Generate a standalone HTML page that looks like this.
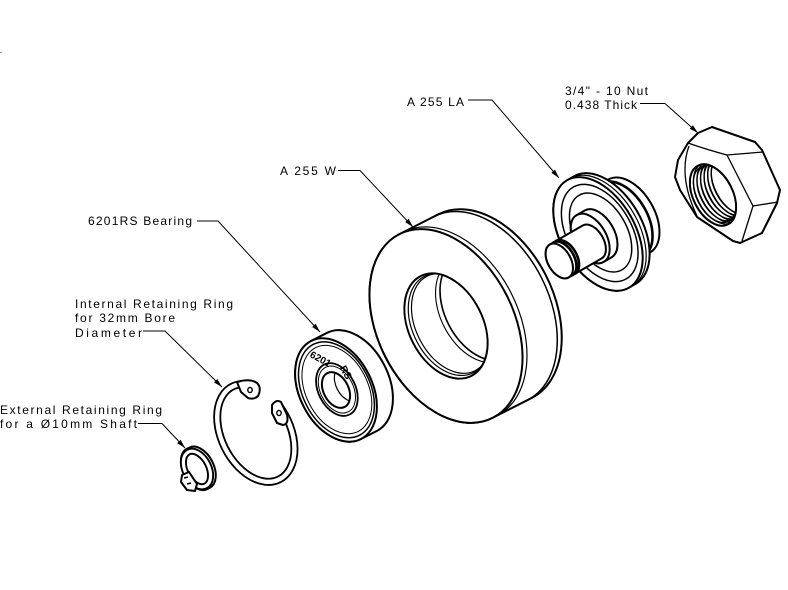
<!DOCTYPE html>
<html><head><meta charset="utf-8"><style>
html,body{margin:0;padding:0;background:#fff;width:788px;height:590px;overflow:hidden}
svg{display:block}
text{font-family:"Liberation Sans",sans-serif;font-size:12px;fill:#000}
.s{fill:#fff;stroke:#000;stroke-width:2;stroke-linejoin:round}
.l{fill:none;stroke:#000;stroke-width:1.3}
.ld{fill:none;stroke:#000;stroke-width:1}
</style></head><body>
<svg width="788" height="590" viewBox="0 0 788 590" xmlns="http://www.w3.org/2000/svg">
<defs>
<marker id="ar" markerUnits="userSpaceOnUse" markerWidth="10" markerHeight="8" refX="9" refY="4" orient="auto"><path d="M0,1.6 L9,4 L0,6.4 Z" fill="#000"/></marker>
<clipPath id="wh"><ellipse cx="0" cy="0" rx="37" ry="56"/></clipPath>
<clipPath id="nh"><ellipse cx="0" cy="0" rx="19.8" ry="33"/></clipPath>
<clipPath id="bh"><ellipse cx="0" cy="0" rx="12.5" ry="19"/></clipPath>
</defs>
<rect width="788" height="590" fill="#fff"/>
<rect x="0" y="52" width="2" height="1" fill="#999"/>

<!-- Labels -->
<text x="565" y="95" textLength="83">3/4&quot; - 10 Nut</text>
<text x="565" y="109" textLength="72">0.438 Thick</text>
<polyline class="ld" points="640,103.5 665,103.5 698,133" marker-end="url(#ar)"/>

<text x="407" y="106" textLength="57">A 255 LA</text>
<polyline class="ld" points="468,100 492,100 559,178" marker-end="url(#ar)"/>

<text x="280" y="175" textLength="56">A 255 W</text>
<polyline class="ld" points="338,170.5 360,170.5 413,227" marker-end="url(#ar)"/>

<text x="88" y="225" textLength="104">6201RS Bearing</text>
<polyline class="ld" points="197,221 218,221 320,332" marker-end="url(#ar)"/>

<text x="75" y="308" textLength="158">Internal Retaining Ring</text>
<text x="75" y="322" textLength="100">for 32mm Bore</text>
<text x="75" y="337" textLength="67">Diameter</text>
<polyline class="ld" points="143,331 165,331 222,387" marker-end="url(#ar)"/>

<text x="0" y="414" textLength="162">External Retaining Ring</text>
<text x="0" y="428" textLength="137">for a  Ø10mm Shaft</text>
<polyline class="ld" points="138,423.5 162,423.5 185,448" marker-end="url(#ar)"/>

<!-- Nut -->
<path class="s" d="M698,133 L712,127 L755,142 L762,150 L780,190 L777,203 L762,233 L740,243 L733,241 L697,217 L680,190 L675,177 L678,160 L688,143 Z"/>
<path class="l" d="M688,143 Q708,150 727,155 L763,152 M727,155 L753,206 L778,202 M753,206 L742,241 M689,146 Q678,176 697,216"/>
<g transform="translate(713,195) rotate(-27)">
<ellipse cx="0" cy="0" rx="19.8" ry="33" fill="#fff" stroke="#000" stroke-width="2"/>
<g clip-path="url(#nh)" fill="none" stroke="#000" stroke-width="1.3">
<ellipse cx="2" cy="0" rx="18.3" ry="30.5"/>
<ellipse cx="4" cy="0" rx="19.8" ry="33"/>
<ellipse cx="6" cy="0" rx="18.3" ry="30.5"/>
<ellipse cx="8" cy="0" rx="19.8" ry="33"/>
<ellipse cx="10" cy="0" rx="18.3" ry="30.5"/>
<ellipse cx="12" cy="0" rx="19.8" ry="33"/>
<ellipse cx="14" cy="0" rx="18.3" ry="30.5"/>
<ellipse cx="16" cy="0" rx="19.8" ry="33"/>
<ellipse cx="18" cy="0" rx="18.3" ry="30.5"/>
<ellipse cx="20" cy="0" rx="19.8" ry="33"/>
<ellipse cx="22" cy="0" rx="18.3" ry="30.5"/>
<ellipse cx="24" cy="0" rx="19.8" ry="33"/>
</g>
</g>

<!-- A 255 LA -->
<g transform="translate(598,234) rotate(-30)">
<path class="s" stroke-width="3" d="M8,-42 L36,-42 A25.2,42 0 0 1 36,42 L8,42 A25.2,42 0 0 1 8,-42 Z"/>
<path fill="none" stroke="#000" stroke-width="2.6" d="M28,-42 A25.2,42 0 0 1 28,42"/>
<path class="s" d="M0,-62 L8,-62 A37.2,62 0 0 1 8,62 L0,62 A37.2,62 0 0 1 0,-62 Z"/>
<path fill="none" stroke="#000" stroke-width="1.2" d="M4,-62 A37.2,62 0 0 1 4,62"/>
<ellipse class="s" cx="0" cy="0" rx="37.2" ry="62"/>
<ellipse cx="2" cy="0" rx="32" ry="53" fill="none" stroke="#000" stroke-width="1.5"/>
<ellipse cx="3" cy="0" rx="26" ry="43" fill="none" stroke="#000" stroke-width="1.5"/>
<path class="s" d="M-9,-27 L0,-27 A16.2,27 0 0 1 0,27 L-9,27 A16.2,27 0 0 1 -9,-27 Z"/>
<ellipse class="s" cx="-9" cy="0" rx="16.2" ry="27"/>
<g transform="translate(0,4)">
<path class="s" d="M-47,-19 L-9,-19 A11.4,19 0 0 1 -9,19 L-47,19 A11.4,19 0 0 1 -47,-19 Z"/>
<path fill="none" stroke="#000" stroke-width="2.6" d="M-43,-19 A11.4,19 0 0 1 -43,19 M-40,-19 A11.4,19 0 0 1 -40,19"/>
<ellipse class="s" cx="-47" cy="0" rx="11.4" ry="19"/>
</g>
</g>

<!-- A 255 W wheel -->
<g transform="translate(446,326) rotate(-27)">
<path class="s" d="M0,-103 L44,-103 A68,103 0 0 1 44,103 L0,103 A68,103 0 0 1 0,-103 Z"/>
<path fill="none" stroke="#000" stroke-width="1.5" d="M39,-103 A68,103 0 0 1 39,103"/>
<path fill="none" stroke="#000" stroke-width="1.2" d="M5,-103 A68,103 0 0 1 5,103"/>
<ellipse class="s" cx="0" cy="0" rx="68" ry="103"/>
<ellipse class="s" cx="0" cy="0" rx="37" ry="56"/>
<g clip-path="url(#wh)" fill="none" stroke="#000">
<ellipse cx="40" cy="0" rx="37" ry="56" stroke-width="1.6"/>
<ellipse cx="35" cy="0" rx="37" ry="56" stroke-width="1.1"/>
<ellipse cx="3" cy="0" rx="36" ry="54" stroke-width="1.2"/>
<ellipse cx="5.5" cy="0" rx="35" ry="53" stroke-width="1.2"/>
</g>
</g>

<!-- Bearing -->
<g transform="translate(336,390) rotate(-27)">
<path class="s" d="M0,-55 L18,-55 A36.3,55 0 0 1 18,55 L0,55 A36.3,55 0 0 1 0,-55 Z"/>
<ellipse class="s" cx="0" cy="0" rx="36.3" ry="55"/>
<ellipse cx="0.5" cy="0" rx="33.7" ry="51" fill="none" stroke="#000" stroke-width="1.5"/>
<ellipse cx="1" cy="0" rx="31" ry="47" fill="none" stroke="#000" stroke-width="1"/>
<ellipse cx="1" cy="0" rx="18.5" ry="28" fill="none" stroke="#000" stroke-width="1.8"/>
<ellipse cx="1" cy="0" rx="16.5" ry="25" fill="none" stroke="#000" stroke-width="1"/>
<ellipse class="s" cx="0" cy="0" rx="12.5" ry="19"/>
<g clip-path="url(#bh)"><ellipse cx="14" cy="0" rx="12.5" ry="19" fill="none" stroke="#000" stroke-width="1.2"/></g>
</g>
<text transform="translate(319,362) rotate(28)" text-anchor="middle" style="font-size:10px;font-weight:bold">6201</text>
<text transform="translate(343,374) rotate(60)" text-anchor="middle" style="font-size:10px;font-weight:bold">RS</text>

<!-- Internal retaining ring -->
<g transform="translate(256,433) rotate(-27)">
<path d="M33,-13.5 A34.3,52 0 1 1 15.6,-46.3" fill="none" stroke="#000" stroke-width="8"/>
<path d="M33,-13.5 A34.3,52 0 1 1 15.6,-46.3" fill="none" stroke="#fff" stroke-width="4.4"/>
</g>
<path class="s" stroke-width="1.6" d="M237,382 Q250,378 257,383 Q262,388 258,396 Q254,400 248,398 L241,392 Z"/>
<ellipse cx="250" cy="390" rx="2.2" ry="2.6" fill="#fff" stroke="#000" stroke-width="1.4"/>
<path class="s" stroke-width="1.6" d="M272,405 Q276,399 281,402 L287,415 Q289,424 283,425 L277,423 L272,413 Z"/>
<ellipse cx="279" cy="413" rx="2.2" ry="2.6" fill="#fff" stroke="#000" stroke-width="1.4"/>

<!-- External retaining ring -->
<g transform="translate(197,469) rotate(-27)">
<path class="s" stroke-width="1.6" d="M0,-22.5 L3,-22.5 A14,22.5 0 0 1 3,22.5 L0,22.5 A14,22.5 0 0 1 0,-22.5 Z"/>
<ellipse cx="0" cy="0" rx="11.8" ry="19" fill="none" stroke="#000" stroke-width="7"/>
<ellipse cx="0" cy="0" rx="11.8" ry="19" fill="none" stroke="#fff" stroke-width="3.2"/>
</g>
<path class="s" stroke-width="1.6" d="M182,475 L189,472 L197,484 L195,491 L187,490 L181,482 Z"/>
<path fill="none" stroke="#000" stroke-width="1.6" d="M184,478 L188,477 M187,484 L191,483"/>
</svg>
</body></html>
